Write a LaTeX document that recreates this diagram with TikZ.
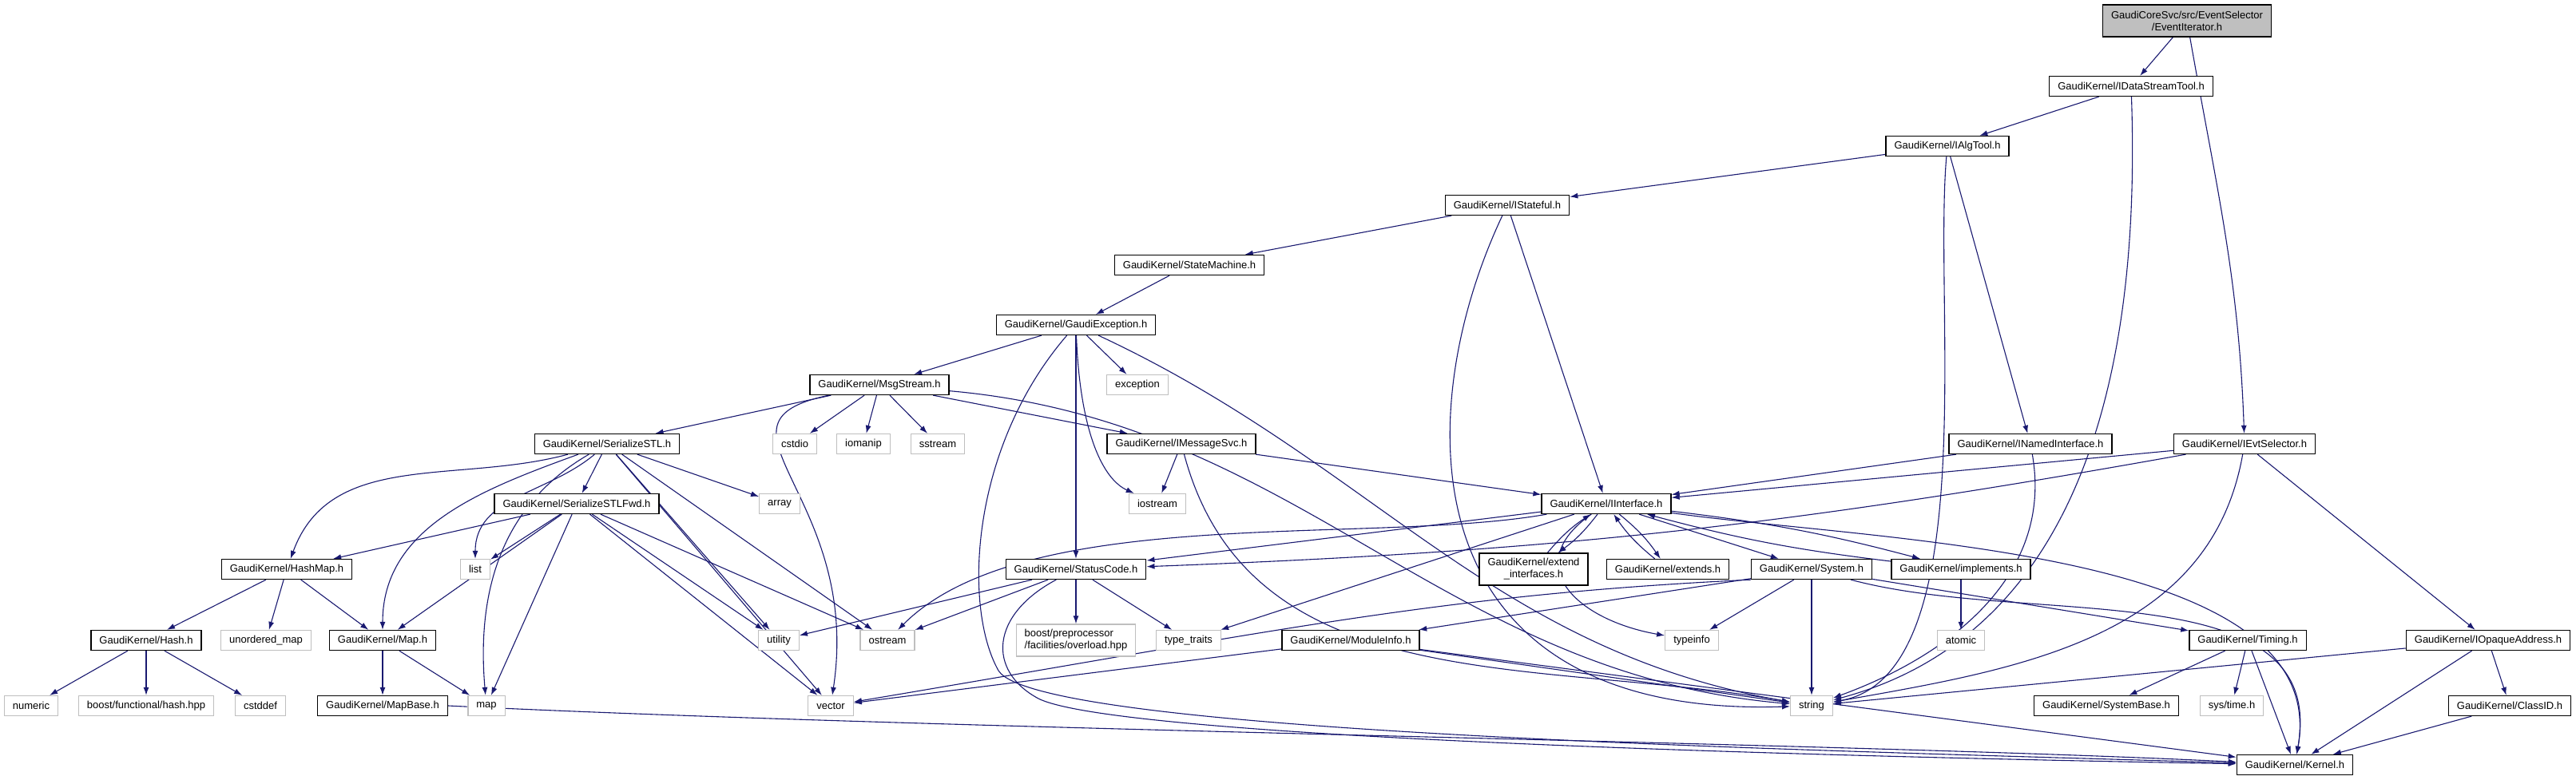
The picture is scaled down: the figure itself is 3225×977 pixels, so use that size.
\documentclass[tikz,border=0pt]{standalone}
\usepackage{fontspec}
\setmainfont{Liberation Sans}
\usetikzlibrary{arrows.meta,backgrounds}
\definecolor{edgeblue}{RGB}{25,25,112}
\definecolor{sysgray}{RGB}{191,191,191}
\tikzset{
	hdr/.style={draw=black, fill=white, line width=0.65pt, minimum height=12.5pt, inner xsep=5.25pt, inner ysep=1pt, font=\fontsize{6.5}{7.5}\selectfont},
	sys/.style={hdr, draw=sysgray},
	tall/.style={minimum height=20pt, align=center},
	rootbox/.style={hdr, tall, fill=sysgray},
	inc/.style={draw=edgeblue, line width=0.55pt, -{Latex[length=5pt,width=3.5pt]}},
}

\begin{document}
\begin{tikzpicture}[x=0.5pt, y=-0.5pt]
			%%%%% START %%%%%
			\useasboundingbox (0,0) rectangle (3225,977);
			
			% top of the tree
			\node[rootbox] (root) at (2738,26) {GaudiCoreSvc/src/EventSelector\\/EventIterator.h};
			\node[hdr] (dst) at (2668,108) {GaudiKernel/IDataStreamTool.h};
			\node[hdr] (algtool) at (2438,183) {GaudiKernel/IAlgTool.h};
			\node[hdr] (stateful) at (1887,257) {GaudiKernel/IStateful.h};
			\node[hdr] (statemachine) at (1489,332) {GaudiKernel/StateMachine.h};
			\node[hdr] (gexc) at (1347,407) {GaudiKernel/GaudiException.h};
			\node[hdr] (msgstream) at (1101,482) {GaudiKernel/MsgStream.h};
			\node[sys] (exception) at (1424,482) {exception};
			
			\node[hdr] (sstl) at (760,556) {GaudiKernel/SerializeSTL.h};
			\node[sys] (cstdio) at (995,556) {cstdio};
			\node[sys] (iomanip) at (1081,556) {iomanip};
			\node[sys] (sstream) at (1174,556) {sstream};
			\node[hdr] (imsgsvc) at (1479,556) {GaudiKernel/IMessageSvc.h};
			\node[hdr] (inamed) at (2542,556) {GaudiKernel/INamedInterface.h};
			\node[hdr] (ievtsel) at (2810,556) {GaudiKernel/IEvtSelector.h};
			
			\node[hdr] (sstlfwd) at (722,631) {GaudiKernel/SerializeSTLFwd.h};
			\node[sys] (array) at (976,631) {array};
			\node[sys] (iostream) at (1449,631) {iostream};
			\node[hdr] (iinterface) at (2011,631) {GaudiKernel/IInterface.h};
			
			\node[hdr] (hashmap) at (359,713) {GaudiKernel/HashMap.h};
			\node[sys] (list) at (595,713) {list};
			\node[hdr] (statuscode) at (1347,713) {GaudiKernel/StatusCode.h};
			\node[hdr, tall] (extendif) at (1920,713) {GaudiKernel/extend\\\_interfaces.h};
			\node[hdr] (extends) at (2088,713) {GaudiKernel/extends.h};
			\node[hdr] (system) at (2268,713) {GaudiKernel/System.h};
			\node[hdr] (implements) at (2455,713) {GaudiKernel/implements.h};
			
			\node[hdr] (hash) at (183,802) {GaudiKernel/Hash.h};
			\node[sys] (unordmap) at (333,802) {unordered\_map};
			\node[hdr] (map) at (479,802) {GaudiKernel/Map.h};
			\node[sys] (utility) at (975,802) {utility};
			\node[sys] (ostream) at (1111,802) {ostream};
			\node[sys, tall, align=left] (boostpp) at (1347,802) {boost/preprocessor\\/facilities/overload.hpp};
			\node[sys] (typetraits) at (1488,802) {type\_traits};
			\node[hdr] (moduleinfo) at (1691,802) {GaudiKernel/ModuleInfo.h};
			\node[sys] (typeinfo) at (2118,802) {typeinfo};
			\node[sys] (atomic) at (2455,802) {atomic};
			\node[hdr] (timing) at (2814,802) {GaudiKernel/Timing.h};
			\node[hdr] (iopaque) at (3115,802) {GaudiKernel/IOpaqueAddress.h};
			
			\node[sys] (numeric) at (39,884) {numeric};
			\node[sys] (boosthash) at (183,884) {boost/functional/hash.hpp};
			\node[sys] (cstddef) at (326,884) {cstddef};
			\node[hdr] (mapbase) at (479,884) {GaudiKernel/MapBase.h};
			\node[sys] (stdmap) at (609,884) {map};
			\node[sys] (vector) at (1040,884) {vector};
			\node[sys] (string) at (2268,884) {string};
			\node[hdr] (systembase) at (2637,884) {GaudiKernel/SystemBase.h};
			\node[sys] (systime) at (2794,884) {sys/time.h};
			\node[hdr] (classid) at (3142,884) {GaudiKernel/ClassID.h};
			
			\node[hdr] (kernel) at (2873,958) {GaudiKernel/Kernel.h};
			
			% includes, kept under the boxes
			\begin{pgfonlayer}{background}
			\draw[inc] (root) to[out=-80,in=92] (ievtsel);
			\draw[inc] (root) -- (dst);
			\draw[inc] (dst) -- (algtool);
			\draw[inc] (dst) to[out=-88,in=15] (string);
			\draw[inc] (algtool) -- (stateful);
			\draw[inc] (algtool) -- (inamed);
			\draw[inc] (algtool) to[out=-95,in=10,looseness=0.7] (string);
			\draw[inc] (stateful) -- (statemachine);
			\draw[inc] (stateful) -- (iinterface);
			\draw[inc] (stateful) .. controls (1763,520) and (1763,900) .. (string);
			\draw[inc] (statemachine) -- (gexc);
			
			\draw[inc] (gexc) -- (msgstream);
			\draw[inc] (gexc) -- (exception);
			\draw[inc] (gexc) -- (statuscode);
			\draw[inc] (gexc) .. controls (1352,540) and (1380,600) .. (iostream);
			\draw[inc] (gexc) to[out=-25,in=170] (string);
			\draw[inc] (gexc) .. controls (1215,560) and (1205,760) .. (1250,840) .. controls (1300,920) and (2300,940) .. (kernel);
			
			\draw[inc] (msgstream) -- (sstl);
			\draw[inc] (msgstream) -- (cstdio);
			\draw[inc] (msgstream) -- (iomanip);
			\draw[inc] (msgstream) -- (sstream);
			\draw[inc] (msgstream) -- (imsgsvc);
			\draw[inc] (msgstream) .. controls (870,530) and (1080,620) .. (vector);
			\draw[inc] (msgstream) to[out=-5,in=175] (string);
			
			\draw[inc] (sstl) to[out=195,in=70] (hashmap);
			\draw[inc] (sstl) to[out=200,in=90] (map);
			\draw[inc] (sstl) to[out=-150,in=95] (stdmap);
			\draw[inc] (sstl) to[out=-140,in=90] (list);
			\draw[inc] (sstl) -- (sstlfwd);
			\draw[inc] (sstl) -- (array);
			\draw[inc] (sstl) -- (utility);
			\draw[inc] (sstl) -- (vector);
			\draw[inc] (sstl) -- (ostream);
			
			\draw[inc] (sstlfwd) -- (hashmap);
			\draw[inc] (sstlfwd) -- (list);
			\draw[inc] (sstlfwd) -- (map);
			\draw[inc] (sstlfwd) -- (stdmap);
			\draw[inc] (sstlfwd) -- (vector);
			\draw[inc] (sstlfwd) -- (utility);
			\draw[inc] (sstlfwd) -- (ostream);
			
			\draw[inc] (hashmap) -- (hash);
			\draw[inc] (hashmap) -- (unordmap);
			\draw[inc] (hashmap) -- (map);
			\draw[inc] (hash) -- (numeric);
			\draw[inc] (hash) -- (boosthash);
			\draw[inc] (hash) -- (cstddef);
			\draw[inc] (map) -- (mapbase);
			\draw[inc] (map) -- (stdmap);
			\draw[inc] (mapbase.east) .. controls (1200,915) and (2300,930) .. (kernel);
			
			\draw[inc] (imsgsvc) -- (iostream);
			\draw[inc] (imsgsvc) to[out=-75,in=170] (string);
			\draw[inc] (imsgsvc) -- (iinterface);
			\draw[inc] (inamed) -- (iinterface);
			\draw[inc] (inamed) to[out=-80,in=20] (string);
			\draw[inc] (ievtsel) -- (iinterface);
			\draw[inc] (ievtsel) to[bend left=4] (statuscode);
			\draw[inc] (ievtsel) to[out=-100,in=10] (string);
			\draw[inc] (ievtsel) -- (iopaque);
			
			\draw[inc] (iinterface) to[bend left=8] (extendif);
			\draw[inc] (extendif) to[bend left=8] (iinterface);
			\draw[inc] (iinterface) to[bend left=8] (extends);
			\draw[inc] (extends) to[bend left=8] (iinterface);
			\draw[inc] (iinterface) to[bend left=4] (implements);
			\draw[inc] (implements) to[bend left=4] (iinterface);
			\draw[inc] (iinterface) -- (system);
			\draw[inc] (iinterface) -- (statuscode);
			\draw[inc] (iinterface) to[out=190,in=45,looseness=0.7] (ostream);
			\draw[inc] (iinterface) -- (typetraits);
			\draw[inc] (iinterface) to[out=-145,in=170,looseness=1.6] (typeinfo);
			\draw[inc] (iinterface) to[out=-8,in=80,looseness=0.8] (kernel);
			
			\draw[inc] (statuscode) -- (utility);
			\draw[inc] (statuscode) -- (ostream);
			\draw[inc] (statuscode) -- (boostpp);
			\draw[inc] (statuscode) -- (typetraits);
			\draw[inc] (statuscode) .. controls (1240,770) and (1235,840) .. (1300,875) .. controls (1400,925) and (2300,948) .. (kernel);
			
			\draw[inc] (system) -- (typeinfo);
			\draw[inc] (system) -- (string);
			\draw[inc] (system) -- (moduleinfo);
			\draw[inc] (system.south west) .. controls (1800,745) and (1600,790) .. (vector);
			\draw[inc] (system) -- (timing);
			\draw[inc] (system) to[out=-15,in=80] (kernel);
			\draw[inc] (moduleinfo) -- (vector);
			\draw[inc] (moduleinfo) -- (string);
			\draw[inc] (moduleinfo) -- (kernel);
			\draw[inc] (implements) -- (atomic);
			
			\draw[inc] (timing) -- (systembase);
			\draw[inc] (timing) -- (systime);
			\draw[inc] (timing) -- (kernel);
			\draw[inc] (iopaque) -- (string);
			\draw[inc] (iopaque) -- (classid);
			\draw[inc] (iopaque) -- (kernel);
			\draw[inc] (classid) -- (kernel);
			\end{pgfonlayer}
			
			%%%%% END %%%%%
\end{tikzpicture}
\end{document}
